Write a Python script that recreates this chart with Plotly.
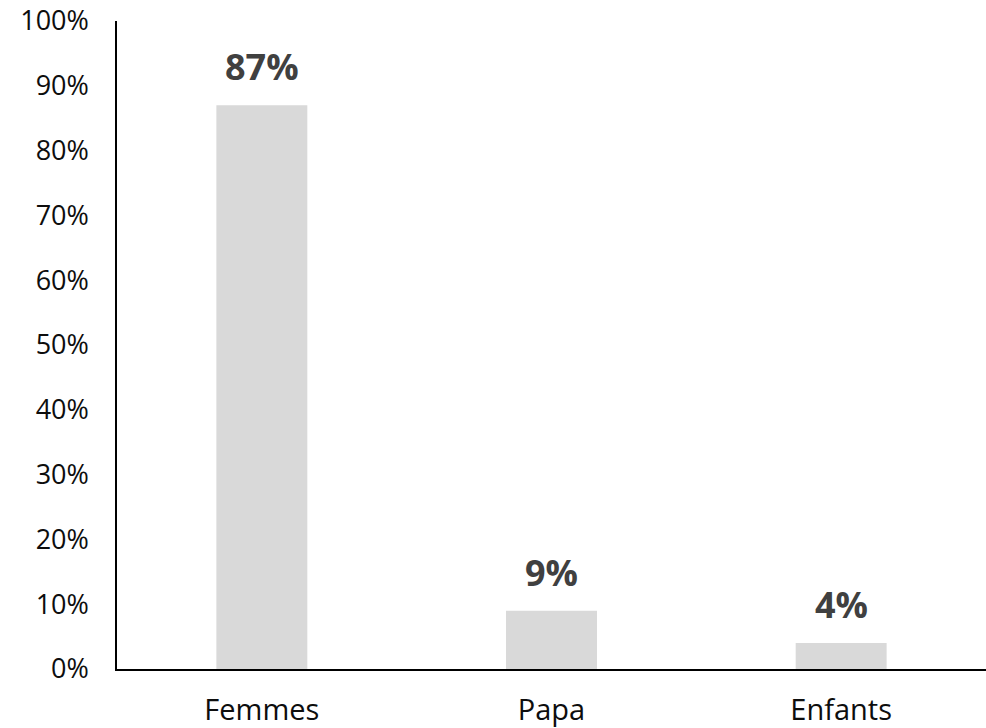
import plotly.graph_objects as go

categories = ["Femmes", "Papa", "Enfants"]
values = [0.87, 0.09, 0.04]
label_texts = ["87%", "9%", "4%"]
tick_vals = [i / 10 for i in range(11)]
tick_texts = [f"{i*10}%" for i in range(11)]

fig = go.Figure()
fig.add_trace(go.Bar(
    x=categories, y=values,
    marker=dict(color="#d9d9d9", line=dict(width=0)),
    hoverinfo="skip",
))

for c, v, t in zip(categories, values, label_texts):
    fig.add_annotation(
        x=c, y=v, text=t, showarrow=False,
        yanchor="bottom", yshift=12,
        font=dict(family="Open Sans", size=36, color="#404040", weight="bold"),
    )

fig.update_layout(
    width=986, height=728,
    margin=dict(l=117, r=0, t=21, b=57),
    paper_bgcolor="white", plot_bgcolor="white",
    bargap=0.686,
    showlegend=False,
    xaxis=dict(
        showline=True, linecolor="black", linewidth=1.5,
        showgrid=False, ticks="", ticklabelstandoff=14,
        tickfont=dict(family="Open Sans", size=29, color="#0d0d0d"),
    ),
    yaxis=dict(
        range=[0, 1], tickvals=tick_vals, ticktext=tick_texts,
        showline=True, linecolor="black", linewidth=1.5,
        showgrid=False, zeroline=False, ticks="", ticklabelstandoff=21,
        tickfont=dict(family="Open Sans", size=27, color="#0d0d0d"),
    ),
)

fig.write_html(
    "out.html",
    config={"displayModeBar": False},
    post_script="document.body.style.margin='0px';",
)
